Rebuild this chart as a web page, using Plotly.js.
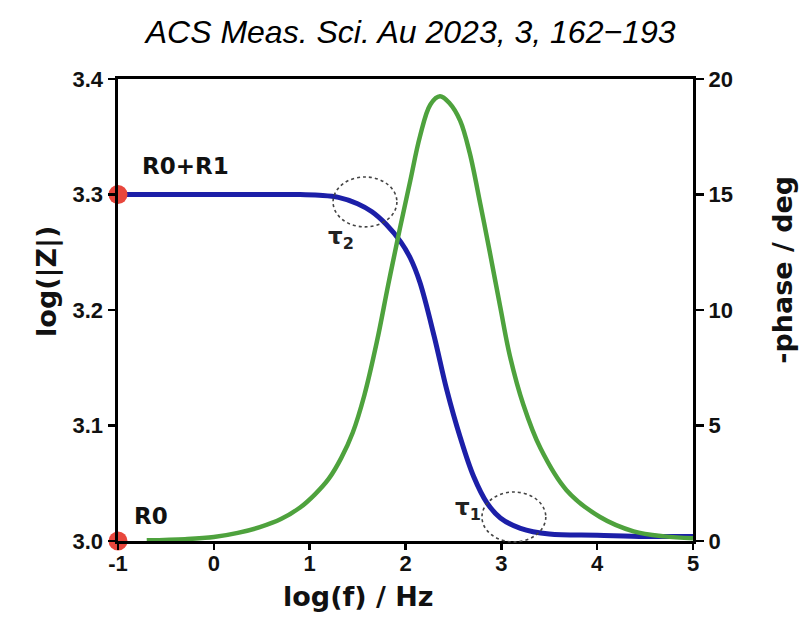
<!DOCTYPE html>
<html>
<head>
<meta charset="utf-8">
<script src="https://cdn.plot.ly/plotly-3.0.1.min.js"></script>
<style>html,body{margin:0;padding:0;background:#fff;}#chart{width:802px;height:618px;}</style>
</head>
<body>
<div id="chart"></div>
<script>
// log(|Z|) curve (left axis)
const logF_Z = [-1, 0, 0.5, 0.9, 1.1, 1.3, 1.5, 1.65, 1.8, 1.95, 2.05, 2.15, 2.3, 2.43, 2.57, 2.71, 2.85, 2.99, 3.2, 3.5, 4.0, 4.5, 5.0];
const logZ   = [3.300, 3.300, 3.300, 3.300, 3.2993, 3.2975, 3.292, 3.285, 3.274, 3.259, 3.245, 3.224, 3.177, 3.131, 3.090, 3.056, 3.033, 3.020, 3.011, 3.006, 3.005, 3.004, 3.004];
// -phase curve (right axis)
const logF_P = [-0.7, -0.3, 0, 0.25, 0.48, 0.7, 0.9, 1.05, 1.2, 1.33, 1.45, 1.57, 1.7, 1.82, 1.94, 2.05, 2.15, 2.26, 2.36, 2.46, 2.57, 2.67, 2.78, 2.88, 2.99, 3.09, 3.23, 3.41, 3.68, 4.03, 4.38, 4.7, 5.0];
const phase  = [0.03, 0.08, 0.17, 0.35, 0.6, 0.95, 1.45, 2.0, 2.7, 3.6, 4.7, 6.3, 8.6, 11.1, 13.5, 15.6, 17.5, 18.9, 19.25, 18.95, 18.2, 16.8, 14.6, 12.5, 10.1, 8.0, 5.9, 4.0, 2.2, 1.04, 0.42, 0.2, 0.12];
// marked resistance points
const dotX = [-1, -1];
const dotY = [3.0, 3.3];
const dotLabels = ['R0', 'R0+R1'];
// axis ticks
const xTicks = [-1, 0, 1, 2, 3, 4, 5];
const yTicks = [3.0, 3.1, 3.2, 3.3, 3.4];
const y2Ticks = [0, 5, 10, 15, 20];

const tickFont = {family: 'Liberation Sans, Arial, sans-serif', size: 22, color: '#111', weight: 'bold'};
const titleFont = {family: 'DejaVu Sans, sans-serif', size: 27, color: '#111', weight: 'bold'};

const traces = [
  {x: logF_P, y: phase, yaxis: 'y2', mode: 'lines', line: {color: '#4ea23d', width: 4.5, shape: 'spline', smoothing: 1}, hoverinfo: 'skip'},
  {x: logF_Z, y: logZ, mode: 'lines', line: {color: '#1c1fa8', width: 5, shape: 'spline', smoothing: 1}, hoverinfo: 'skip'},
  {x: dotX, y: dotY, mode: 'markers', marker: {color: '#e8473d', size: 19}, cliponaxis: false, hoverinfo: 'skip'}
];

const layout = {
  width: 802, height: 618,
  margin: {l: 118, r: 109, t: 79, b: 77},
  paper_bgcolor: '#fff', plot_bgcolor: '#fff',
  showlegend: false,
  title: {text: 'ACS Meas. Sci. Au 2023, 3, 162\u2212193', x: 0.512, xref: 'container', xanchor: 'center', y: 0.948, yref: 'container', yanchor: 'middle',
          font: {family: 'Liberation Sans, Arial, sans-serif', size: 32, style: 'italic', color: '#000'}},
  xaxis: {range: [-1, 5], tickvals: xTicks, ticktext: xTicks.map(String), showgrid: false, zeroline: false,
          showline: true, linecolor: '#000', linewidth: 3, mirror: true,
          ticks: 'outside', ticklen: 6, tickwidth: 2.5, tickcolor: '#000', tickfont: tickFont, ticklabelstandoff: -5},
  yaxis: {range: [3.0, 3.4], tickvals: yTicks, ticktext: yTicks.map(v => v.toFixed(1)), showgrid: false, zeroline: false,
          showline: true, linecolor: '#000', linewidth: 3.5,
          ticks: 'outside', ticklen: 7, tickwidth: 2.5, tickcolor: '#000', tickfont: tickFont},
  yaxis2: {range: [0, 20], overlaying: 'y', side: 'right', tickvals: y2Ticks, ticktext: y2Ticks.map(String), showgrid: false, zeroline: false,
           showline: true, linecolor: '#000', linewidth: 3,
           ticks: 'outside', ticklen: 8, tickwidth: 2.5, tickcolor: '#000', tickfont: tickFont},
  shapes: [
    {type: 'circle', xref: 'paper', yref: 'paper', x0: 0.374, x1: 0.485, y0: 0.680, y1: 0.788, line: {color: '#444', width: 1.6, dash: 'dot'}},
    {type: 'circle', xref: 'paper', yref: 'paper', x0: 0.633, x1: 0.744, y0: -0.002, y1: 0.106, line: {color: '#444', width: 1.6, dash: 'dot'}}
  ],
  annotations: [
    {text: '<b>' + dotLabels[1] + '</b>', x: -0.77, y: 3.325, xref: 'x', yref: 'y', xanchor: 'left', yanchor: 'middle', showarrow: false,
     font: {family: 'DejaVu Sans, sans-serif', size: 23, color: '#111'}},
    {text: '<b>' + dotLabels[0] + '</b>', x: -0.854, y: 3.022, xref: 'x', yref: 'y', xanchor: 'left', yanchor: 'middle', showarrow: false,
     font: {family: 'DejaVu Sans, sans-serif', size: 23, color: '#111'}},
    {text: '<b>\u03c4<sub>2</sub></b>', x: 1.327, y: 3.262, xref: 'x', yref: 'y', xanchor: 'center', yanchor: 'middle', showarrow: false,
     font: {family: 'DejaVu Sans, sans-serif', size: 23, color: '#222'}},
    {text: '<b>\u03c4<sub>1</sub></b>', x: 2.652, y: 3.028, xref: 'x', yref: 'y', xanchor: 'center', yanchor: 'middle', showarrow: false,
     font: {family: 'DejaVu Sans, sans-serif', size: 23, color: '#222'}},
    {text: '<b>log(f) / Hz</b>', x: 0.4174, y: -0.121, xref: 'paper', yref: 'paper', xanchor: 'center', yanchor: 'middle', showarrow: false, font: titleFont},
    {text: '<b>log(|Z|)</b>', x: -0.1235, y: 0.563, xref: 'paper', yref: 'paper', xanchor: 'center', yanchor: 'middle', textangle: -90, showarrow: false, font: titleFont},
    {text: '<b>-phase / deg</b>', x: 1.1565, y: 0.587, xref: 'paper', yref: 'paper', xanchor: 'center', yanchor: 'middle', textangle: -90, showarrow: false, font: titleFont}
  ]
};

Plotly.newPlot('chart', traces, layout, {staticPlot: true, displayModeBar: false});
</script>
</body>
</html>
